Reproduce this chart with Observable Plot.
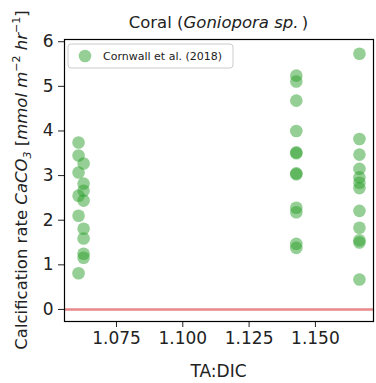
<!DOCTYPE html>
<html>
<head>
<meta charset="utf-8">
<script src="https://cdn.jsdelivr.net/npm/d3@7"></script>
<script src="https://cdn.jsdelivr.net/npm/@observablehq/plot@0.6"></script>
<style>
  html, body { margin: 0; padding: 0; background: white; }
</style>
</head>
<body>
<div id="chart"></div>
<script>
// Calcification measurements for Goniopora sp., grouped by TA:DIC treatment
const taDic = [
  1.0607, 1.0607, 1.0607, 1.0607, 1.0607, 1.0607,
  1.0626, 1.0626, 1.0626, 1.0626, 1.0626, 1.0626, 1.0626, 1.0626,
  1.1428, 1.1428, 1.1428, 1.1428, 1.1428, 1.1428, 1.1428, 1.1428, 1.1428, 1.1428, 1.1428, 1.1428,
  1.1666, 1.1666, 1.1666, 1.1666, 1.1666, 1.1666, 1.1666, 1.1666, 1.1666, 1.1666, 1.1666, 1.1666
];
const calcRate = [
  3.74, 3.45, 3.07, 2.55, 2.10, 0.81,
  3.27, 2.82, 2.66, 2.44, 1.81, 1.59, 1.25, 1.16,
  5.24, 5.11, 4.68, 4.00, 3.52, 3.50, 3.05, 3.03, 2.28, 2.18, 1.47, 1.38,
  5.73, 3.82, 3.47, 3.15, 2.96, 2.84, 2.72, 2.21, 1.83, 1.55, 1.50, 0.67
];
const xTicks = [1.075, 1.100, 1.125, 1.150];
const yTicks = [0, 1, 2, 3, 4, 5, 6];
const baseline = [0];
const seriesName = "Cornwall et al. (2018)";

const rows = taDic.map((x, i) => ({x, y: calcRate[i]}));

const W = 376, H = 383;
const mTop = 39, mBottom = 62, mLeft = 64, mRight = 3;

const chart = Plot.plot({
  width: W,
  height: H,
  marginTop: mTop,
  marginBottom: mBottom,
  marginLeft: mLeft,
  marginRight: mRight,
  style: {fontFamily: "DejaVu Sans", fontSize: "17px", color: "#222", background: "white", overflow: "visible"},
  x: {domain: [1.0554, 1.1719], ticks: xTicks, tickFormat: d3.format(".3f"), label: null, tickSize: 6, tickPadding: 4},
  y: {domain: [-0.27, 6.05], ticks: yTicks, tickFormat: d3.format("d"), label: null, tickSize: 6, tickPadding: 5},
  marks: [
    Plot.ruleY(baseline, {stroke: "#d62728", strokeOpacity: 0.55, strokeWidth: 2.5}),
    Plot.dot(rows, {x: "x", y: "y", r: 6.3, fill: "#2ca02c", fillOpacity: 0.5, stroke: "none"}),
    Plot.frame({stroke: "black", strokeWidth: 1.2})
  ]
});
document.getElementById("chart").append(chart);

const svg = d3.select(chart);
const cx = (mLeft + W - mRight) / 2;
const cy = (mTop + H - mBottom) / 2;

// Title with italic species name
const title = svg.append("text")
  .attr("x", cx).attr("y", 28)
  .attr("text-anchor", "middle")
  .attr("font-size", 16.5).attr("fill", "#222");
title.append("tspan").text("Coral (");
title.append("tspan").attr("font-style", "italic").text("Goniopora sp.");
title.append("tspan").text("\u2009)");

// x axis label
svg.append("text")
  .attr("x", cx).attr("y", 377)
  .attr("text-anchor", "middle")
  .attr("font-size", 17).attr("fill", "#222")
  .text("TA:DIC");

// y axis label with chemical formula and units
const yl = svg.append("text")
  .attr("transform", `translate(27,${cy}) rotate(-90)`)
  .attr("text-anchor", "middle")
  .attr("font-size", 16.5).attr("fill", "#222");
yl.append("tspan").text("Calcification rate ");
yl.append("tspan").attr("font-style", "italic").text("CaCO");
yl.append("tspan").attr("font-style", "italic").attr("font-size", 11).attr("dy", 4).text("3");
yl.append("tspan").attr("dy", -4).text(" [");
yl.append("tspan").attr("font-style", "italic").text("mmol m");
yl.append("tspan").attr("font-size", 11).attr("dy", -7).text("\u22122");
yl.append("tspan").attr("font-style", "italic").attr("dy", 7).text(" hr");
yl.append("tspan").attr("font-size", 11).attr("dy", -7).text("\u22121");
yl.append("tspan").attr("dy", 7).text("]");

// Legend box in the upper-left corner of the axes
const lg = svg.append("g").attr("transform", "translate(68,44)");
lg.append("rect")
  .attr("width", 165).attr("height", 24).attr("rx", 3)
  .attr("fill", "white").attr("fill-opacity", 0.85)
  .attr("stroke", "#cccccc").attr("stroke-width", 1);
lg.append("circle")
  .attr("cx", 17).attr("cy", 12).attr("r", 6.3)
  .attr("fill", "#2ca02c").attr("fill-opacity", 0.5);
lg.append("text")
  .attr("x", 35).attr("y", 16)
  .attr("text-anchor", "start")
  .attr("font-size", 11).attr("fill", "#222")
  .text(seriesName);
</script>
</body>
</html>
